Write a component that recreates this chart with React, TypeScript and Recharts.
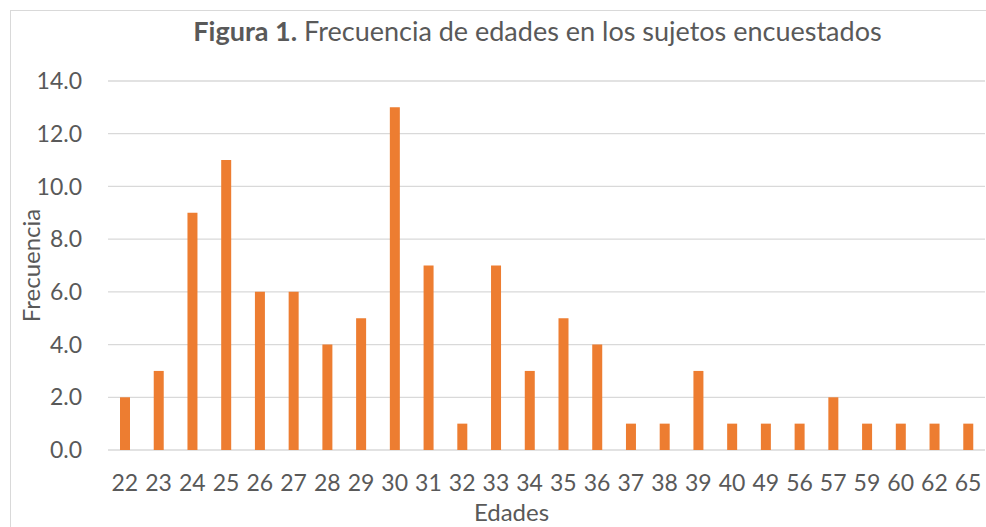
import React from 'react';
import { BarChart, Bar, XAxis, YAxis, CartesianGrid } from 'recharts';

const edades = ['22', '23', '24', '25', '26', '27', '28', '29', '30', '31', '32', '33', '34', '35', '36', '37', '38', '39', '40', '49', '56', '57', '59', '60', '62', '65'];
const frecuencias = [2, 3, 9, 11, 6, 6, 4, 5, 13, 7, 1, 7, 3, 5, 4, 1, 1, 3, 1, 1, 1, 2, 1, 1, 1, 1];
const yTicks = [0, 2, 4, 6, 8, 10, 12, 14];

const titleBold = 'Figura 1.';
const titleRest = ' Frecuencia de edades en los sujetos encuestados';
const xTitle = 'Edades';
const yTitle = 'Frecuencia';

const data = edades.map((e, i) => ({ edad: e, frecuencia: frecuencias[i] }));

const FONT = 'Lato, "Open Sans", sans-serif';
const TEXT = '#595959';

export default function App() {
  return (
    <div style={{ position: 'absolute', left: 0, top: 0, width: 986, height: 527, background: '#fff', fontFamily: FONT }}>
      <svg width={986} height={527} style={{ position: 'absolute', left: 0, top: 0 }}>
        <rect x={10.5} y={10.5} width={1000} height={600} fill="#fff" stroke="#D9D9D9" strokeWidth={1} />
      </svg>
      <div style={{ position: 'absolute', left: 0, top: 0 }}>
        <BarChart width={986} height={527} data={data} margin={{ top: 81, right: 1, bottom: 17, left: 0 }} barSize={10}>
          <CartesianGrid horizontal={true} vertical={false} stroke="#D9D9D9" strokeWidth={1.3} />
          <XAxis
            dataKey="edad"
            axisLine={false}
            tickLine={false}
            tickSize={0}
            tickMargin={25}
            height={60}
            interval={0}
            tick={{ fill: TEXT, fontSize: 23, fontFamily: FONT }}
          />
          <YAxis
            domain={[0, 14]}
            ticks={yTicks}
            width={108}
            axisLine={false}
            tickLine={false}
            tickSize={0}
            tickMargin={26}
            tickFormatter={(v: number) => v.toFixed(1)}
            tick={{ fill: TEXT, fontSize: 23, fontFamily: FONT }}
          />
          <Bar dataKey="frecuencia" fill="#ED7D31" isAnimationActive={false} />
        </BarChart>
      </div>
      <svg width={986} height={527} style={{ position: 'absolute', left: 0, top: 0, pointerEvents: 'none' }}>
        <text x={537.5} y={41} textAnchor="middle" fill={TEXT} fontSize={27} fontFamily={FONT}>
          <tspan fontWeight="bold">{titleBold}</tspan>
          <tspan>{titleRest}</tspan>
        </text>
        <text x={511.5} y={521} textAnchor="middle" fill={TEXT} fontSize={24} fontFamily={FONT}>{xTitle}</text>
        <text x={40} y={265.5} textAnchor="middle" fill={TEXT} fontSize={24} fontFamily={FONT} transform="rotate(-90 40 265.5)">{yTitle}</text>
      </svg>
    </div>
  );
}
